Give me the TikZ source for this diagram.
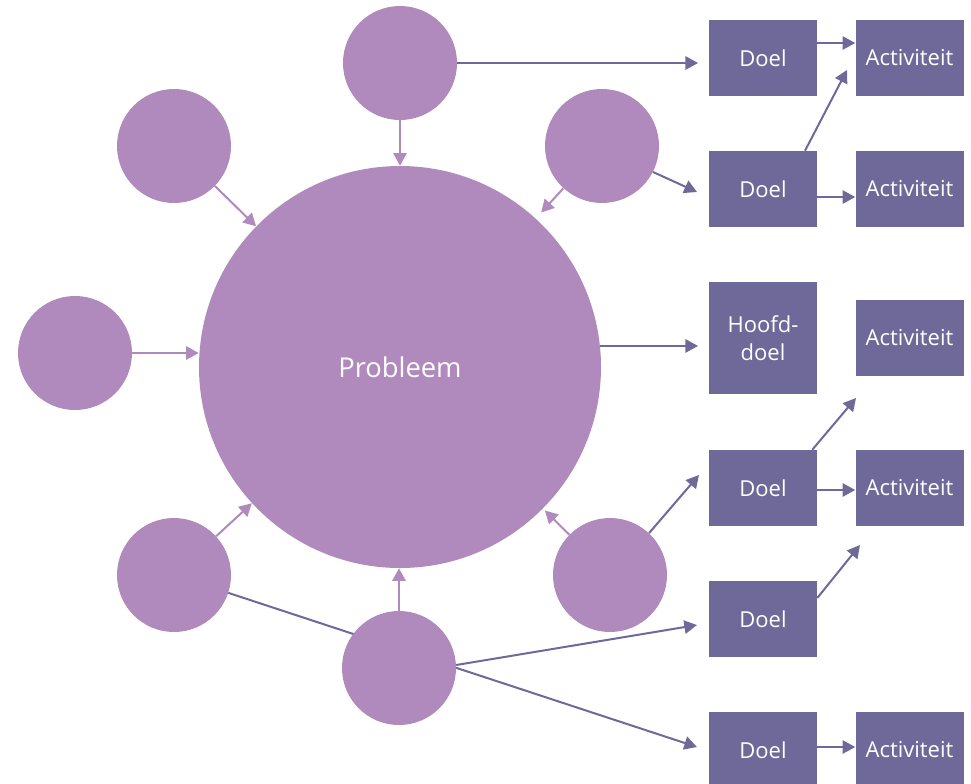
\documentclass[tikz,border=0pt]{standalone}
\usepackage{fontspec}
\setmainfont{Open Sans}
\usetikzlibrary{arrows.meta,calc}
\definecolor{orchid}{HTML}{B08ABC}
\definecolor{slate}{HTML}{6F6999}
\begin{document}
\begin{tikzpicture}[x=0.75pt,y=-0.75pt,
  bubble/.style={circle,fill=orchid,draw=none,inner sep=0pt,minimum size=85.5pt},
  core/.style={circle,fill=orchid,draw=none,inner sep=0pt,minimum size=301.5pt,
    text=white,font=\fontsize{20.5}{24}\selectfont},
  goalbox/.style={rectangle,fill=slate,draw=none,inner sep=0pt,minimum width=81pt,
    minimum height=57pt,text=white,align=center,font=\fontsize{16.5}{21}\selectfont},
  soft/.style={draw=orchid,line width=1.5pt,-{Triangle[length=9.5pt,width=10pt]}},
  firm/.style={draw=slate,line width=1.5pt,-{Triangle[length=9.5pt,width=10pt]}}]

\useasboundingbox (0,0) rectangle (971,783);

% anchor points for free arrow ends
\coordinate (t2) at (697,192);
\coordinate (t4) at (699,475);
\coordinate (t5) at (697,625);
\coordinate (t6) at (697,747);
\coordinate (u1) at (847,70);
\coordinate (u4) at (856,398);
\coordinate (u5) at (860,545);

% goals and activities
\node[goalbox] (d1) at (763,58) {Doel};
\node[goalbox] (a1) at (909.5,58) {Activiteit};
\node[goalbox] (d2) at (763,189) {Doel};
\node[goalbox] (a2) at (909.5,189) {Activiteit};
\node[goalbox,minimum height=84pt] (hd) at (763,338) {Hoofd-\\doel};
\node[goalbox] (a3) at (909.5,338) {Activiteit};
\node[goalbox] (d4) at (763,488) {Doel};
\node[goalbox] (a4) at (909.5,488) {Activiteit};
\node[goalbox] (d5) at (763,619) {Doel};
\node[goalbox] (d6) at (763,750) {Doel};
\node[goalbox] (a6) at (909.5,750) {Activiteit};

% connectors drawn beneath the bubbles
\path (174,575) coordinate (blc) (399,668) coordinate (btc);
\draw[firm] ($(blc)!57*0.75pt!(t6)$) -- (t6);

% bubbles
\node[core] (big) at (400,367) {Probleem};
\node[bubble] (top) at (400,63) {};
\node[bubble] (tl) at (174,146) {};
\node[bubble] (ur) at (602,146) {};
\node[bubble] (lf) at (75,353) {};
\node[bubble] (bl) at (blc) {};
\node[bubble] (br) at (610,575) {};
\node[bubble] (bt) at (btc) {};

% causes feeding the problem
\draw[soft] (top) -- (big);
\draw[soft] (tl) -- (big);
\draw[soft] (lf) -- (lf -| big.west);
\draw[soft,shorten >=6pt] (ur) -- (big);
\draw[soft] (bl) -- (big);
\draw[soft,shorten >=2pt] (br) -- (big);
\draw[soft] (bt) -- (bt |- big.south);

% links towards goals
\draw[firm,shorten >=8pt] (top) -- (top -| d1.west);
\draw[firm,shorten >=8pt] (big.6) -- (big.6 -| hd.west);
\draw[firm] (ur.-27) -- (t2);
\draw[firm] (br.47) -- (t4);
\draw[firm] (bt.3) -- (t5);

% goals to activities
\draw[firm] ($(d1.east)+(0,-15)$) -- ($(a1.west)+(0,-15)$);
\draw[firm] ($(d2.north)+(42,0)$) -- (u1);
\draw[firm] ($(d2.east)+(0,8)$) -- ($(a2.west)+(0,8)$);
\draw[firm] ($(d4.north east)+(-5,0)$) -- (u4);
\draw[firm] ($(d4.east)+(0,2)$) -- ($(a4.west)+(0,2)$);
\draw[firm] ($(d5.east)+(0,-21)$) -- (u5);
\draw[firm] ($(d6.east)+(0,-3)$) -- ($(a6.west)+(0,-3)$);
\end{tikzpicture}
\end{document}
